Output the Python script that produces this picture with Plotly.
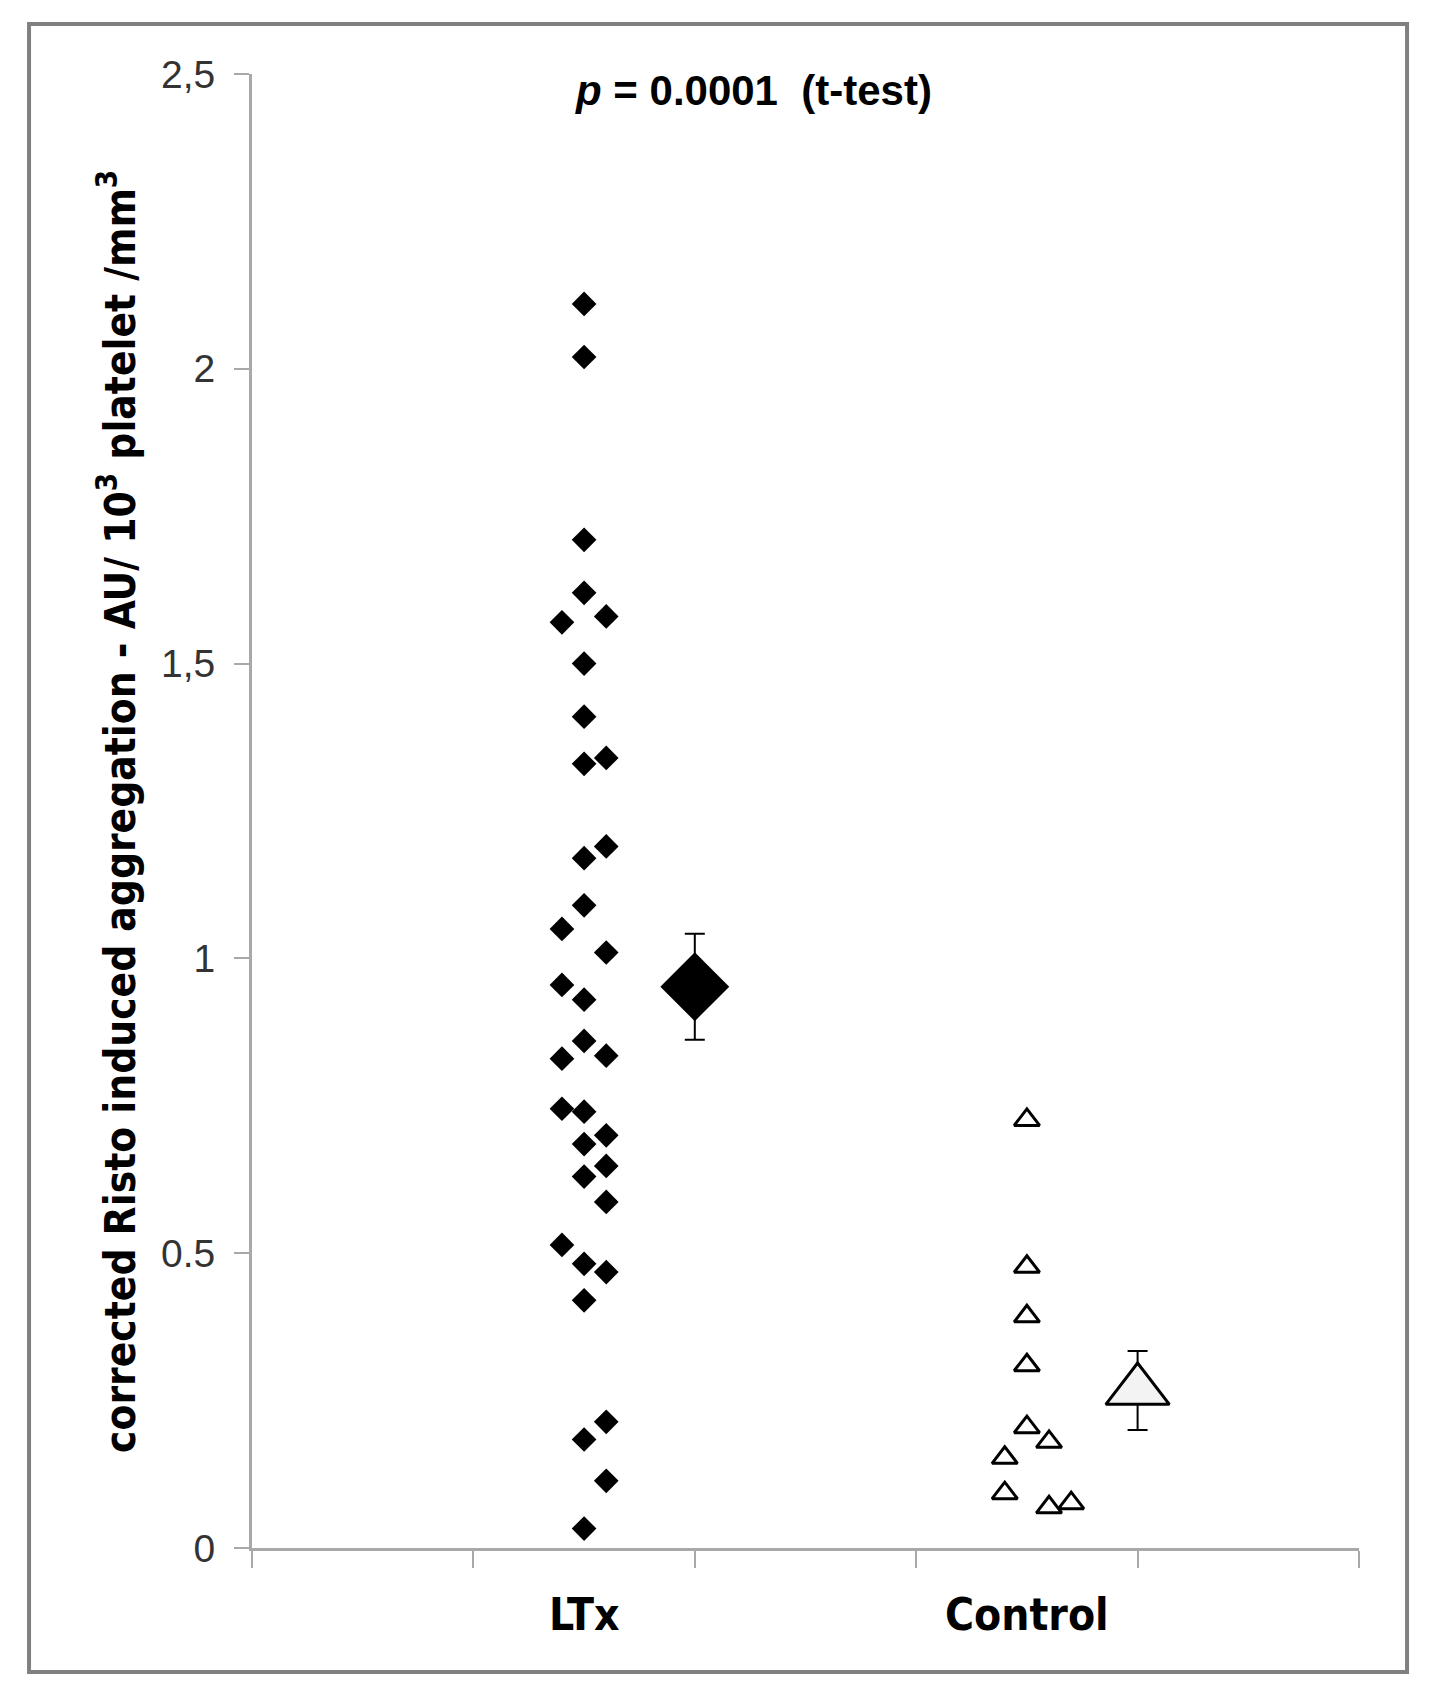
import plotly.graph_objects as go

# ---------------- data ----------------
categories = ["LTx", "Control"]
category_x = [1.5, 3.5]

# LTx individual values and their dot-plot column (-1 left, 0 centre, +1 right)
ltx_values = [2.11, 2.02, 1.71, 1.62, 1.57, 1.58, 1.50, 1.41, 1.33, 1.34,
              1.19, 1.17, 1.09, 1.05, 1.01, 0.955, 0.93, 0.86, 0.83, 0.835,
              0.745, 0.74, 0.685, 0.70, 0.63, 0.648, 0.587, 0.514, 0.482, 0.468,
              0.42, 0.214, 0.184, 0.114, 0.033]
ltx_cols = [0, 0, 0, 0, -1, 1, 0, 0, 0, 1,
            1, 0, 0, -1, 1, -1, 0, 0, -1, 1,
            -1, 0, 0, 1, 0, 1, 1, -1, 0, 1,
            0, 1, 0, 1, 0]

# Control individual values and columns
control_values = [0.726, 0.477, 0.393, 0.310, 0.205, 0.180, 0.153, 0.093, 0.069, 0.076]
control_cols = [0, 0, 0, 0, 0, 1, -1, -1, 1, 2]

column_step = 0.1

# means with error bars
mean_x = [2.0, 4.0]
mean_values = [0.952, 0.267]
mean_errors = [0.09, 0.067]

ytick_vals = [0, 0.5, 1, 1.5, 2, 2.5]
ytick_text = ["0", "0.5", "1", "1,5", "2", "2,5"]
xtick_vals = [0, 1, 2, 3, 4, 5]

p_text = "<i>p</i> = 0.0001  (t-test)"
y_title = "corrected Risto induced aggregation - AU/ 10<sup>3</sup> platelet /mm<sup>3</sup>"

# ---------------- figure ----------------
ltx_x = [category_x[0] + c * column_step for c in ltx_cols]
ctl_x = [category_x[1] + c * column_step for c in control_cols]

fig = go.Figure()

fig.add_trace(go.Scatter(
    x=ltx_x, y=ltx_values, mode="markers", cliponaxis=False,
    marker=dict(symbol="diamond", size=19, color="black", line=dict(width=0)),
    showlegend=False, hoverinfo="y"))

fig.add_trace(go.Scatter(
    x=ctl_x, y=control_values, mode="markers", cliponaxis=False,
    marker=dict(symbol="triangle-up", size=22, color="white",
                line=dict(width=3, color="black")),
    showlegend=False, hoverinfo="y"))

fig.add_trace(go.Scatter(
    x=[mean_x[0]], y=[mean_values[0]], mode="markers", cliponaxis=False,
    marker=dict(symbol="diamond", size=53, color="black", line=dict(width=0)),
    error_y=dict(type="data", array=[mean_errors[0]], color="black",
                 thickness=2, width=10),
    showlegend=False, hoverinfo="y"))

fig.add_trace(go.Scatter(
    x=[mean_x[1]], y=[mean_values[1]], mode="markers", cliponaxis=False,
    marker=dict(symbol="triangle-up", size=55, color="#f3f3f3",
                line=dict(width=3, color="black")),
    error_y=dict(type="data", array=[mean_errors[1]], color="black",
                 thickness=2, width=10),
    showlegend=False, hoverinfo="y"))

axis_gray = "#a8a8a8"

fig.update_xaxes(
    range=[0, 5], tickvals=xtick_vals, showticklabels=False,
    showline=True, linecolor=axis_gray, linewidth=3,
    ticks="outside", ticklen=17, tickwidth=2, tickcolor=axis_gray,
    showgrid=False, zeroline=False)

fig.update_yaxes(
    range=[0, 2.5], tickvals=ytick_vals, ticktext=ytick_text,
    showline=True, linecolor=axis_gray, linewidth=3,
    ticks="outside", ticklen=15, tickwidth=2, tickcolor=axis_gray,
    tickfont=dict(family="Liberation Sans, Arial, sans-serif", size=39, color="#333333"),
    ticklabelstandoff=11,
    showgrid=False, zeroline=False)

annotations = []
for name, cx in zip(categories, category_x):
    annotations.append(dict(
        x=cx, y=0, xref="x", yref="paper", text="<b>%s</b>" % name,
        showarrow=False, xanchor="center", yanchor="middle", yshift=-66,
        font=dict(family="Liberation Sans Narrow, DejaVu Sans Condensed, sans-serif",
                  size=44, color="black")))

annotations.append(dict(
    x=0.4526, y=0.989, xref="paper", yref="paper", text="<b>%s</b>" % p_text,
    showarrow=False, xanchor="center", yanchor="middle",
    font=dict(family="Liberation Sans, Arial, sans-serif", size=42, color="black")))

annotations.append(dict(
    x=-0.122, y=0.5, xref="paper", yref="paper", text="<b>%s</b>" % y_title,
    textangle=-90, showarrow=False, xanchor="center", yanchor="middle",
    font=dict(family="Liberation Sans Narrow, DejaVu Sans Condensed, sans-serif",
              size=42, color="black")))

fig.update_layout(
    width=1430, height=1702, autosize=False,
    margin=dict(l=244, r=79, t=66, b=162, pad=0),
    paper_bgcolor="white", plot_bgcolor="white",
    annotations=annotations,
    shapes=[dict(type="rect", xref="paper", yref="paper",
                 x0=-0.2014, x1=1.0434, y0=-0.0841, y1=1.0339,
                 line=dict(color="#808080", width=4), fillcolor="rgba(0,0,0,0)",
                 layer="below")],
)

fig.write_html("out.html")
